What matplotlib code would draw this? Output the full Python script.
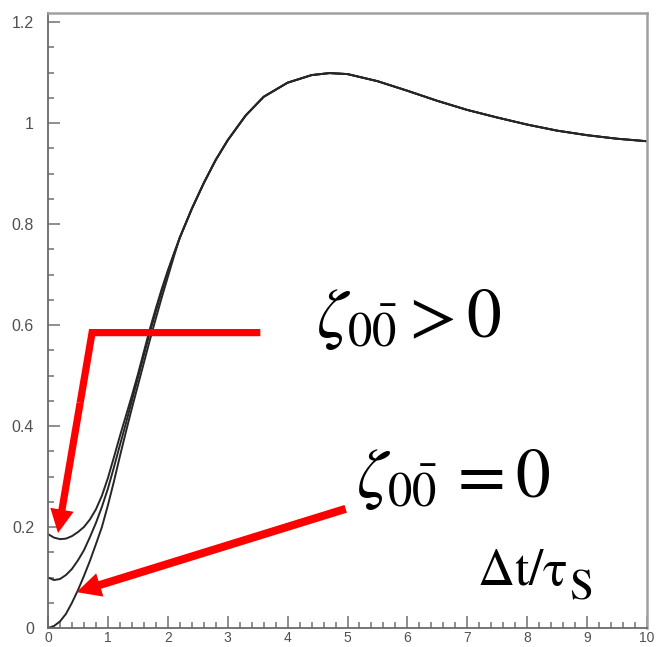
import numpy as np
import matplotlib
matplotlib.use('Agg')
import matplotlib.pyplot as plt
from matplotlib.ticker import MultipleLocator

# Curve samples (three curves split below x~2.1, one shared tail)
x_early = [0.0, 0.1, 0.2, 0.3, 0.4, 0.5, 0.6, 0.7, 0.8, 0.9, 1.0,
           1.1, 1.2, 1.3, 1.4, 1.5, 1.6, 1.7, 1.8, 1.9, 2.0, 2.1]
y_top = [0.186, 0.179, 0.176, 0.177, 0.182, 0.190, 0.200, 0.215, 0.235, 0.262, 0.297,
         0.338, 0.380, 0.420, 0.460, 0.502, 0.547, 0.592, 0.633, 0.672, 0.708, 0.741]
y_mid = [0.100, 0.095, 0.097, 0.105, 0.117, 0.134, 0.154, 0.180, 0.208, 0.240, 0.276,
         0.318, 0.362, 0.405, 0.450, 0.495, 0.540, 0.585, 0.627, 0.667, 0.705, 0.740]
y_bot = [0.000, 0.004, 0.013, 0.028, 0.050, 0.075, 0.103, 0.133, 0.166, 0.200, 0.243,
         0.290, 0.340, 0.388, 0.435, 0.480, 0.525, 0.570, 0.613, 0.655, 0.695, 0.735]

x_tail = [2.2, 2.4, 2.6, 2.8, 3.0, 3.3, 3.6, 4.0, 4.4, 4.7, 5.0,
          5.5, 6.0, 6.5, 7.0, 7.5, 8.0, 8.5, 9.0, 9.5, 10.0]
y_tail = [0.773, 0.830, 0.881, 0.927, 0.966, 1.015, 1.052, 1.080, 1.095, 1.099, 1.097,
          1.083, 1.064, 1.044, 1.026, 1.011, 0.997, 0.985, 0.976, 0.969, 0.964]

x_ticks = list(range(0, 11))
y_ticks = [0, 0.2, 0.4, 0.6, 0.8, 1.0, 1.2]
y_ticklabels = ['0', '0.2', '0.4', '0.6', '0.8', '1', '1.2']

# annotation anchor points (data coords)
arrow1_start = (3.545, 0.585)
arrow1_corner = (0.736, 0.585)
arrow1_tip = (0.167, 0.188)
arrow2_start = (4.97, 0.236)
arrow2_tip = (0.477, 0.071)

fig = plt.figure(figsize=(6.58, 6.47), dpi=100)
ax = fig.add_axes([48 / 658, 19 / 647, 599 / 658, 615 / 647])

for yy in (y_top, y_mid, y_bot):
    ax.plot(x_early + x_tail, yy + y_tail, color='#262626', lw=1.4)

ax.set_xlim(0, 10)
ax.set_ylim(0, 1.218)

ax.set_xticks(x_ticks)
ax.set_xticklabels([str(t) for t in x_ticks])
ax.set_yticks(y_ticks)
ax.set_yticklabels(y_ticklabels)
ax.xaxis.set_minor_locator(MultipleLocator(0.2))
ax.yaxis.set_minor_locator(MultipleLocator(0.05))
ax.tick_params(which='both', direction='in', color='#707070', width=1.1,
               top=False, right=False, labelcolor='#505050')
ax.tick_params(which='major', length=8.5)
ax.tick_params(which='minor', length=4.3)
ax.tick_params(axis='y', which='major', pad=10, labelsize=11.5)
ax.tick_params(axis='x', which='major', pad=2, labelsize=10)
for lab in ax.get_xticklabels() + ax.get_yticklabels():
    lab.set_family('Liberation Sans')

for side in ('left', 'bottom'):
    ax.spines[side].set_color('#6a6a6a')
    ax.spines[side].set_linewidth(1.3)
for side in ('top', 'right'):
    ax.spines[side].set_color('#a0a0a0')
    ax.spines[side].set_linewidth(1.8)

# red arrows
red = '#ff0000'
f = 0.35
mid1 = (arrow1_corner[0] + f * (arrow1_tip[0] - arrow1_corner[0]),
        arrow1_corner[1] + f * (arrow1_tip[1] - arrow1_corner[1]))
ax.plot([arrow1_start[0], arrow1_corner[0], mid1[0]],
        [arrow1_start[1], arrow1_corner[1], mid1[1]],
        color=red, lw=5.2, solid_joinstyle='miter', solid_capstyle='butt')
ax.annotate('', xy=arrow1_tip, xytext=mid1,
            arrowprops=dict(arrowstyle='simple,head_length=1.7,head_width=1.7,tail_width=0.52',
                            color=red, lw=0, shrinkA=0, shrinkB=0, mutation_scale=10))
ax.annotate('', xy=arrow2_tip, xytext=arrow2_start,
            arrowprops=dict(arrowstyle='simple,head_length=1.75,head_width=1.75,tail_width=0.58',
                            color=red, lw=0, shrinkA=0, shrinkB=0, mutation_scale=10))

# labels
ax.text(4.48, 0.576, r'$\zeta_{0\bar{0}} > 0$', fontsize=50, math_fontfamily='stix',
        ha='left', va='baseline', color='black')
ax.text(5.15, 0.259, r'$\zeta_{0\bar{0}}\,= 0$', fontsize=50, math_fontfamily='stix',
        ha='left', va='baseline', color='black')
t = ax.text(7.17, 0.085, r'$\mathrm{\Delta t/\tau}$', fontsize=37, math_fontfamily='stix',
            ha='left', va='baseline', color='black')
ax.annotate(r'$\mathrm{S}$', xy=(1, 0), xycoords=t, xytext=(1, -8.5), textcoords='offset points',
            fontsize=31, math_fontfamily='stix', ha='left', va='bottom', color='black')

fig.savefig('out.png', dpi=100)
